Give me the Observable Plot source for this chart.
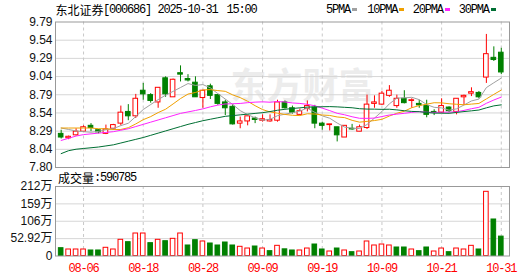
<!DOCTYPE html>
<html><head><meta charset="utf-8">
<script src="https://cdn.jsdelivr.net/npm/d3@7"></script>
<script src="https://cdn.jsdelivr.net/npm/@observablehq/plot@0.6"></script>
<style>
body{margin:0;background:#fff;}
#wrap{position:relative;width:530px;height:276px;overflow:hidden;background:#fff;}
#wrap svg{position:absolute;left:0;}
.t{position:absolute;white-space:nowrap;font-size:12px;line-height:12px;color:#000;}
.mono{font-family:"Liberation Mono","DejaVu Sans Mono",monospace;letter-spacing:-1.2px;}
.cjk{font-family:"Noto Sans CJK SC",sans-serif;}
.sw{position:absolute;width:5px;height:3px;}
</style></head><body><div id="wrap"></div>
<script>
// ---- data ----
const dates = ["08-01","08-04","08-05","08-06","08-07","08-08","08-11","08-12","08-13","08-14","08-15",
"08-18","08-19","08-20","08-21","08-22","08-25","08-26","08-27","08-28","08-29",
"09-01","09-02","09-03","09-04","09-05","09-08","09-09","09-10","09-11","09-12",
"09-15","09-16","09-17","09-18","09-19","09-22","09-23","09-24","09-25","09-26","09-29","09-30",
"10-09","10-10","10-13","10-14","10-15","10-16","10-17","10-20","10-21","10-22","10-23","10-24",
"10-27","10-28","10-29","10-30","10-31"];
const open  = [8.26,8.20,8.24,8.29,8.37,8.31,8.26,8.33,8.40,8.56,8.50,8.85,8.79,8.69,9.02,8.76,9.09,9.01,8.96,8.75,
8.91,8.79,8.69,8.63,8.40,8.43,8.47,8.44,8.43,8.44,8.69,8.61,8.52,8.60,8.62,8.40,8.38,8.35,8.21,8.33,
8.29,8.34,8.67,8.66,8.78,8.64,8.74,8.71,8.67,8.64,8.56,8.55,8.62,8.56,8.76,8.81,8.82,9.03,9.30,9.37];
const high  = [8.31,8.23,8.33,8.37,8.40,8.32,8.38,8.39,8.64,8.66,8.80,8.95,8.81,8.89,9.04,9.01,9.19,9.07,9.04,8.85,
8.94,8.80,8.72,8.66,8.49,8.50,8.49,8.52,8.52,8.72,8.71,8.64,8.60,8.71,8.65,8.42,8.39,8.35,8.37,8.39,
8.38,8.79,8.78,8.84,8.92,8.79,8.85,8.74,8.72,8.72,8.59,8.74,8.63,8.74,8.79,8.89,8.84,9.62,9.45,9.43];
const low   = [8.19,8.18,8.23,8.29,8.29,8.26,8.25,8.31,8.37,8.44,8.47,8.72,8.68,8.61,8.76,8.76,8.97,8.97,8.76,8.61,
8.73,8.65,8.51,8.38,8.33,8.37,8.40,8.42,8.42,8.42,8.60,8.53,8.51,8.56,8.33,8.31,8.30,8.15,8.21,8.31,
8.29,8.32,8.61,8.65,8.76,8.61,8.67,8.61,8.61,8.48,8.51,8.54,8.55,8.52,8.65,8.77,8.74,8.95,9.25,9.07];
const close = [8.21,8.22,8.29,8.35,8.34,8.28,8.32,8.38,8.55,8.50,8.74,8.80,8.71,8.89,8.80,9.00,9.07,8.99,8.76,8.85,
8.78,8.67,8.61,8.39,8.43,8.50,8.45,8.46,8.45,8.69,8.61,8.55,8.57,8.64,8.40,8.37,8.39,8.24,8.37,8.32,
8.35,8.66,8.69,8.81,8.85,8.74,8.68,8.72,8.65,8.52,8.55,8.64,8.57,8.74,8.78,8.83,8.76,9.35,9.27,9.10];
const ma5  = [8.34,8.32,8.30,8.29,8.282,8.294,8.316,8.332,8.373,8.405,8.497,8.593,8.661,8.728,8.789,8.841,8.894,8.948,8.923,8.934,
8.889,8.811,8.736,8.662,8.578,8.523,8.479,8.447,8.458,8.509,8.529,8.549,8.573,8.612,8.554,8.506,8.474,8.408,8.353,8.337,
8.334,8.388,8.476,8.565,8.671,8.749,8.753,8.760,8.728,8.661,8.623,8.615,8.584,8.602,8.655,8.710,8.736,8.893,8.959,9.023];
const ma10 = [8.34,8.34,8.34,8.34,8.34,8.33,8.33,8.32,8.32,8.344,8.396,8.454,8.496,8.551,8.597,8.669,8.743,8.804,8.826,8.861,
8.865,8.852,8.842,8.793,8.756,8.706,8.645,8.592,8.560,8.543,8.526,8.514,8.510,8.535,8.531,8.518,8.512,8.491,8.482,8.445,
8.420,8.431,8.442,8.459,8.504,8.542,8.570,8.618,8.647,8.666,8.686,8.684,8.672,8.665,8.658,8.667,8.676,8.738,8.800,8.859];
const ma20 = [8.17,8.20,8.23,8.25,8.26,8.27,8.28,8.29,8.31,8.33,8.36,8.39,8.42,8.45,8.48,8.51,8.54,8.56,8.58,8.602,
8.630,8.653,8.669,8.672,8.676,8.687,8.694,8.698,8.693,8.702,8.696,8.683,8.676,8.664,8.644,8.612,8.578,8.541,8.521,8.494,
8.473,8.472,8.476,8.497,8.518,8.530,8.541,8.554,8.564,8.556,8.553,8.557,8.557,8.562,8.581,8.604,8.623,8.678,8.723,8.763];
const ma30 = [7.99,8.03,8.05,8.06,8.07,8.08,8.095,8.11,8.135,8.16,8.185,8.21,8.24,8.27,8.30,8.33,8.36,8.39,8.415,8.44,
8.46,8.48,8.50,8.51,8.52,8.53,8.54,8.55,8.565,8.583,8.596,8.607,8.616,8.626,8.628,8.631,8.633,8.629,8.623,8.617,
8.604,8.599,8.598,8.595,8.597,8.588,8.576,8.567,8.563,8.552,8.544,8.543,8.541,8.553,8.565,8.575,8.586,8.616,8.643,8.657];
// volume in 万 (10k lots)
const volume = [23.8,19.8,19.8,19.8,16.8,16.8,25.0,19.8,49.3,42.1,68.5,68.5,39.1,49.3,45.1,52.3,68.5,32.0,48.2,44.2,
38.1,32.0,41.1,32.0,28.0,22.8,28.9,22.8,14.7,31.0,20.3,16.8,16.8,22.8,35.0,19.8,13.7,22.8,16.8,11.6,
13.7,44.2,32.0,35.0,32.0,25.9,25.9,19.8,14.7,25.9,13.7,22.8,11.6,22.8,19.8,31.0,19.8,195.5,111.2,59.0785];
const xTickDates = ["08-06","08-18","08-28","09-09","09-19","10-09","10-21","10-31"];
const priceTicks  = [7.80,8.04875,8.2975,8.54625,8.795,9.04375,9.2925,9.54125,9.79];
const priceLabels = ["7.80","8.04","8.29","8.54","8.79","9.04","9.29","9.54","9.79"];
const volTicks  = [0,52.92,105.84,158.76,211.68];
const volLabels = ["0","52.92万","106万","159万","212万"];
const maNames = ["5PMA","10PMA","20PMA","30PMA"];
const maColors = ["#a0a0a0","#f0a000","#ff22ff","#006f33"];
const titleName = "东北证券", titleCode = "[000686]", titleDate = "2025-10-31", titleTime = "15:00";
const volTitle = "成交量", volLast = ":590785";
const watermark = "东方财富";

// ---- build ----
const RED = "#ff0000", GREEN = "#008000";
const n = dates.length;
const rows = d3.range(n).map(i => ({i, o: open[i], h: high[i], l: low[i], c: close[i], up: close[i] >= open[i],
  v: volume[i], vup: i > 0 && close[i] >= close[i-1]}));
const tickIdx = xTickDates.map(d => dates.indexOf(d));
const maRows = [ma5, ma10, ma20, ma30].flatMap((arr, k) => arr.map((v, i) => ({i, v, k})));
const pLab = new Map(priceTicks.map((t, k) => [t, priceLabels[k]]));
const vLab = new Map(volTicks.map((t, k) => [t, volLabels[k]]));
const xScale = {type: "linear", domain: [-0.76, 60.1], axis: null};
const labelFont = "Liberation Sans, Arial, Noto Sans CJK SC, sans-serif";
const HW = 0.31;

const price = Plot.plot({
  width: 530, height: 178, marginTop: 21.5, marginBottom: 11, marginLeft: 55, marginRight: 21,
  x: xScale,
  y: {domain: [7.80, 9.79], axis: null},
  style: {background: "transparent", fontSize: "12px", fontFamily: labelFont},
  marks: [
    Plot.text([watermark], {frameAnchor: "top-left", dx: 175, dy: 65, lineAnchor: "middle", textAnchor: "start",
      fontSize: 36, fontWeight: "bold", fontFamily: "Noto Sans CJK SC", fill: "#ececec"}),
    Plot.ruleY(priceTicks.slice(1, -1), {stroke: "#d6d6d6"}),
    Plot.ruleX(tickIdx, {stroke: "#c8c8c8", strokeDasharray: "3,3"}),
    Plot.axisY({ticks: priceTicks, tickSize: 0, tickPadding: 3, tickFormat: d => pLab.get(d), label: null,
      fill: "#111", fontSize: 12}),
    Plot.ruleX(rows, {x: "i", y1: "l", y2: "h", stroke: d => d.up ? RED : GREEN, strokeWidth: 1}),
    Plot.rect(rows, {x1: d => d.i - HW, x2: d => d.i + HW, y1: "o", y2: "c",
      fill: d => d.up ? "#fff" : GREEN, stroke: d => d.up ? RED : GREEN, strokeWidth: 1}),
    Plot.line(maRows, {x: "i", y: "v", z: "k", stroke: d => maColors[d.k], strokeWidth: 1}),
    Plot.frame({stroke: "#999"})
  ]
});

const vol = Plot.plot({
  width: 530, height: 106, marginTop: 16, marginBottom: 20.5, marginLeft: 55, marginRight: 21,
  x: xScale,
  y: {domain: [0, 211.68], axis: null},
  style: {background: "transparent", fontSize: "12px", fontFamily: labelFont},
  marks: [
    Plot.ruleY(volTicks.slice(1, -1), {stroke: "#d6d6d6"}),
    Plot.ruleX(tickIdx, {stroke: "#c8c8c8", strokeDasharray: "3,3"}),
    Plot.rect(rows, {x1: d => d.i - HW, x2: d => d.i + HW, y1: 0, y2: "v",
      fill: d => d.vup ? "#fff" : GREEN, stroke: d => d.vup ? RED : GREEN, strokeWidth: 1}),
    Plot.axisY({ticks: volTicks, tickSize: 0, tickPadding: 3, tickFormat: d => vLab.get(d), label: null,
      fill: "#111", fontSize: 12}),
    Plot.axisX({ticks: tickIdx, tickSize: 0, tickPadding: 7, tickFormat: i => dates[i], label: null, fill: RED,
      fontSize: 12, fontFamily: "Liberation Mono, DejaVu Sans Mono, monospace"}),
    Plot.frame({stroke: "#999"})
  ]
});
d3.select(vol).selectAll('g[aria-label="x-axis tick label"] text').style("letter-spacing", "-1.2px");

const wrap = document.getElementById("wrap");
price.style.top = "0px";
vol.style.top = "170px";
wrap.appendChild(price);
wrap.appendChild(vol);

function addText(txt, cls, left, top, color) {
  const d = document.createElement("div");
  d.className = "t " + cls;
  d.textContent = txt;
  d.style.left = left + "px";
  d.style.top = top + "px";
  if (color) d.style.color = color;
  wrap.appendChild(d);
}
addText(titleName, "cjk", 55.5, 3.5);
addText(titleCode, "mono", 103, 4);
addText(titleDate, "mono", 157.5, 4);
addText(titleTime, "mono", 226.5, 4);
const legX = [326, 367.3, 412.7, 458.7];
maNames.forEach((nm, k) => {
  addText(nm, "mono", legX[k], 3.5);
  const s = document.createElement("div");
  s.className = "sw";
  s.style.left = (legX[k] + nm.length * 6 + 2) + "px";
  s.style.top = "7.5px";
  s.style.background = maColors[k];
  wrap.appendChild(s);
});
addText(volTitle, "cjk", 58, 171.5);
addText(volLast, "mono", 94, 172);
</script></body></html>
